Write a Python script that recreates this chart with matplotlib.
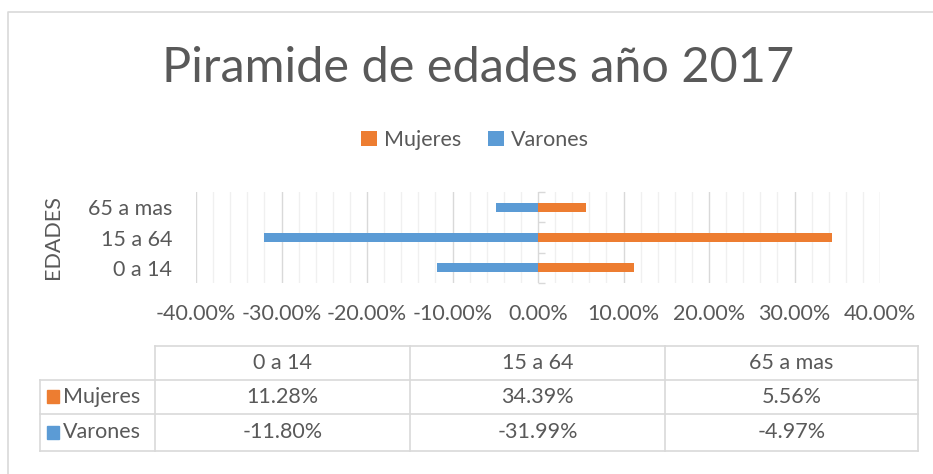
import matplotlib.pyplot as plt
import matplotlib.ticker as mticker
from matplotlib.lines import Line2D
from matplotlib.patches import Rectangle
import numpy as np

# Data
edades = ["0 a 14", "15 a 64", "65 a mas"]
mujeres = [11.28, 34.39, 5.56]
varones = [-11.80, -31.99, -4.97]
series_names = ["Mujeres", "Varones"]
xticks = np.arange(-40, 41, 10)

ORANGE = "#ED7D31"
BLUE = "#5B9BD5"
TEXT = "#595959"
GRID = "#d9d9d9"
FS = 15.5

plt.rcParams["font.family"] = ["Lato", "DejaVu Sans"]

W, H = 933, 474
fig = plt.figure(figsize=(W / 100, H / 100), dpi=100)


def fx(px):
    return px / W


def fy(py):
    return 1 - py / H


# chart border (top and left edges visible)
fig.add_artist(Line2D([fx(8), fx(8), 1], [0, fy(12), fy(12)], color=GRID, lw=1.2))

# Title
fig.text(fx(478), fy(68), "Piramide de edades año 2017", ha="center", va="center",
         fontsize=35, color=TEXT, fontweight="normal")

# Main plot
ax = fig.add_axes([fx(196), fy(283), fx(880) - fx(196), (283 - 192) / H])
y = np.arange(len(edades))
ax.barh(y, mujeres, height=0.3, color=ORANGE, label=series_names[0], zorder=3)
ax.barh(y, varones, height=0.3, color=BLUE, label=series_names[1], zorder=3)
ax.set_xlim(-40, 40)
ax.set_ylim(-0.5, len(edades) - 0.5)
ax.set_xticks(xticks)
ax.set_xticks(np.arange(-40, 41, 2), minor=True)
ax.xaxis.set_major_formatter(mticker.FuncFormatter(lambda v, p: f"{v:.2f}%"))
ax.grid(axis="x", which="major", color=GRID, lw=1, zorder=0)
ax.grid(axis="x", which="minor", color="#f0f0f0", lw=1, zorder=0)
ax.tick_params(axis="x", which="both", length=0, pad=15, labelsize=FS, labelcolor=TEXT)
ax.set_yticks(y, edades)
ax.tick_params(axis="y", length=0, pad=17, labelsize=FS, labelcolor=TEXT)
for s in ax.spines.values():
    s.set_visible(False)
ax.text(-0.2095, 0.5, "EDADES", transform=ax.transAxes, rotation=90,
        ha="center", va="center", fontsize=FS, color=TEXT)

# zero axis line with category tick marks
sec = ax.secondary_yaxis(0.5)
sec.set_yticks(np.arange(len(edades) + 1) - 0.5)
sec.set_yticklabels([])
sec.tick_params(axis="y", direction="out", length=5, color=GRID, width=1)
sec.spines["left"].set_color(GRID)
for s in ["right", "top", "bottom"]:
    sec.spines[s].set_visible(False)

# Legend
handles, labels = ax.get_legend_handles_labels()
fig.legend(handles, labels, loc="center", bbox_to_anchor=(fx(475), fy(140)), ncol=2,
           frameon=False, fontsize=FS, labelcolor=TEXT, handlelength=0.75,
           handleheight=0.75, handletextpad=0.35, columnspacing=1.2)

# Data table
tax = fig.add_axes([fx(40), fy(451), fx(918) - fx(40), (451 - 346) / H])
tax.set_xlim(40, 918)
tax.set_ylim(451, 346)
tax.axis("off")
cols = [40, 155, 410, 665, 918]
rows = [346, 380, 414, 451]
tkw = dict(color=GRID, lw=1.2, clip_on=False)
tax.plot([cols[1], cols[-1]], [rows[0], rows[0]], **tkw)
for r in rows[1:]:
    tax.plot([cols[0], cols[-1]], [r, r], **tkw)
tax.plot([cols[0], cols[0]], [rows[1], rows[-1]], **tkw)
for c in cols[1:]:
    tax.plot([c, c], [rows[0], rows[-1]], **tkw)

for i, e in enumerate(edades):
    cx = (cols[i + 1] + cols[i + 2]) / 2
    tax.text(cx, (rows[0] + rows[1]) / 2, e, ha="center", va="center",
             fontsize=FS, color=TEXT)
for j, (name, vals, col) in enumerate(zip(series_names, [mujeres, varones], [ORANGE, BLUE])):
    cy = (rows[j + 1] + rows[j + 2]) / 2
    tax.add_patch(Rectangle((47, cy - 6.5), 12, 13, color=col, clip_on=False))
    tax.text(63, cy, name, ha="left", va="center", fontsize=FS, color=TEXT)
    for i, v in enumerate(vals):
        cx = (cols[i + 1] + cols[i + 2]) / 2
        tax.text(cx, cy, f"{v:.2f}%", ha="center", va="center", fontsize=FS, color=TEXT)

fig.savefig("out.png", dpi=100)
